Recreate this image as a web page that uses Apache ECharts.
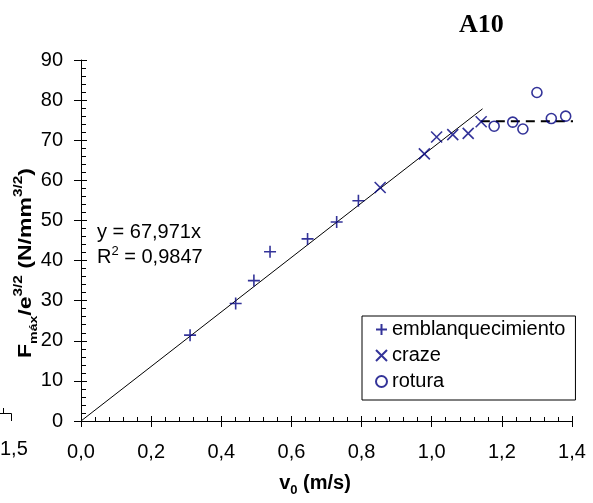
<!DOCTYPE html>
<html><head><meta charset="utf-8">
<script src="https://cdn.jsdelivr.net/npm/echarts@6/dist/echarts.min.js"></script>
<style>html,body{margin:0;padding:0;background:#fff}#c{width:593px;height:503px}</style>
</head><body><div id="c"></div>
<script>
// ---- data ----
const seriesNames = ['emblanquecimiento', 'craze', 'rotura'];
const emblV = [0.311, 0.441, 0.493, 0.539, 0.646, 0.729, 0.791];
const emblF = [21.4, 29.3, 35.0, 42.2, 45.4, 49.6, 54.9];
const crazeV = [0.853, 0.979, 1.014, 1.060, 1.104, 1.141];
const crazeF = [58.2, 66.6, 70.8, 71.4, 71.7, 74.6];
const roturaV = [1.178, 1.231, 1.260, 1.300, 1.341, 1.382];
const roturaF = [73.5, 74.5, 72.8, 81.9, 75.4, 76.0];
const trendSlope = 67.971;
const trendV = [0, 1.145];
const plateauV = [1.14, 1.425];
const plateauF = 74.7;
const xMin = 0, xMax = 1.4, xStep = 0.2;
const yMin = 0, yMax = 90, yStep = 10;
const eqText = ['y = 67,971x', '0,9847'];

const pair = (xs, ys) => xs.map((x, i) => [x, ys[i]]);
const navy = '#000080';
const FONT = 'Liberation Sans, Arial, sans-serif';
const fmt = v => v.toFixed(1).replace('.', ',');

const chart = echarts.init(document.getElementById('c'), null, {renderer: 'canvas'});
const grid = {left: 81, right: 21, top: 60, bottom: 82, containLabel: false};

const baseX = {
  type: 'value', min: xMin, max: xMax, interval: xStep, splitLine: {show: false}
};
const baseY = {
  type: 'value', min: yMin, max: yMax, interval: yStep, splitLine: {show: false}
};

const option = {
  animation: false,
  backgroundColor: '#fff',
  grid,
  xAxis: [
    Object.assign({}, baseX, {
      axisLine: {show: true, onZero: false, lineStyle: {color: '#000', width: 1}},
      axisTick: {show: true, inside: true, length: 5, lineStyle: {color: '#000'}},
      minorTick: {show: true, splitNumber: 5, length: 4, lineStyle: {color: '#000'}},
      axisLabel: {show: true, margin: 21, color: '#000', fontFamily: FONT, fontSize: 20, formatter: fmt}
    }),
    Object.assign({}, baseX, {
      position: 'bottom',
      axisLine: {show: false},
      axisTick: {show: true, inside: false, length: 6, lineStyle: {color: '#000'}},
      axisLabel: {show: false}
    })
  ],
  yAxis: [
    Object.assign({}, baseY, {
      axisLine: {show: true, onZero: false, lineStyle: {color: '#000', width: 1}},
      axisTick: {show: true, inside: true, length: 6, lineStyle: {color: '#000'}},
      minorTick: {show: true, splitNumber: 5, length: 5, lineStyle: {color: '#000'}},
      axisLabel: {show: true, margin: 18, color: '#000', fontFamily: FONT, fontSize: 20}
    }),
    Object.assign({}, baseY, {
      position: 'left',
      axisLine: {show: false},
      axisTick: {show: true, inside: false, length: 7, lineStyle: {color: '#000'}},
      axisLabel: {show: false}
    })
  ],
  legend: {
    data: seriesNames,
    orient: 'vertical',
    left: 362, top: 316,
    width: 219,
    padding: [3, 10, 8, 13],
    itemGap: 5,
    itemWidth: 11, itemHeight: 11,
    backgroundColor: '#fff',
    borderColor: '#000', borderWidth: 1, borderRadius: 0,
    textStyle: {color: '#000', fontFamily: FONT, fontSize: 20, lineHeight: 21},
    selectedMode: false
  },
  series: [
    {
      name: 'trend', type: 'line', xAxisIndex: 0, yAxisIndex: 0,
      data: trendV.map(v => [v, trendSlope * v]),
      symbol: 'none', lineStyle: {color: '#000', width: 1}, silent: true, z: 1
    },
    {
      name: 'plateau', type: 'line', xAxisIndex: 0, yAxisIndex: 0, clip: false,
      data: plateauV.map(v => [v, plateauF]),
      symbol: 'none', lineStyle: {color: '#000', width: 2, type: [9, 6]}, silent: true, z: 1
    },
    {
      name: seriesNames[0], type: 'scatter', data: pair(emblV, emblF),
      symbol: 'path://M0,6L12,6M6,0L6,12', symbolSize: 12,
      itemStyle: {color: 'transparent', borderColor: navy, borderWidth: 1.6}, z: 3
    },
    {
      name: seriesNames[1], type: 'scatter', data: pair(crazeV, crazeF),
      symbol: 'path://M0,0L12,12M12,0L0,12', symbolSize: 11,
      itemStyle: {color: 'transparent', borderColor: navy, borderWidth: 1.6}, z: 3
    },
    {
      name: seriesNames[2], type: 'scatter', data: pair(roturaV, roturaF),
      symbol: 'circle', symbolSize: 10,
      itemStyle: {color: 'transparent', borderColor: navy, borderWidth: 1.6}, z: 3
    }
  ],
  graphic: [
    {type: 'text', left: 459, top: 12,
      style: {text: 'A10', font: 'bold 26px "Liberation Serif", "Times New Roman", serif', fill: '#000'}},
    {type: 'text', x: 97, y: 232,
      style: {text: eqText[0], font: '20px ' + FONT, fill: '#000', textVerticalAlign: 'middle'}},
    {type: 'text', x: 97, y: 256,
      style: {
        text: '{n|R}{s|2}{n| = ' + eqText[1] + '}',
        textVerticalAlign: 'middle',
        rich: {
          n: {fontFamily: FONT, fontSize: 20, fill: '#000', lineHeight: 22, verticalAlign: 'bottom'},
          s: {fontFamily: FONT, fontSize: 13, fill: '#000', lineHeight: 22, verticalAlign: 'top'}
        }
      }},
    {type: 'text', x: 315, y: 485,
      style: {
        text: '{b|v}{sub|0}{b| (m/s)}',
        textAlign: 'center', textVerticalAlign: 'middle',
        rich: {
          b: {fontFamily: FONT, fontWeight: 'bold', fontSize: 20, fill: '#000', lineHeight: 24, verticalAlign: 'top'},
          sub: {fontFamily: FONT, fontWeight: 'bold', fontSize: 13, fill: '#000', lineHeight: 24, verticalAlign: 'bottom'}
        }
      }},
    {type: 'text', x: 26, y: 263, rotation: Math.PI / 2, scaleX: 1.28,
      style: {
        text: '{b|F}{sub|máx}{b|/e}{sup|3/2}{b| (N/mm}{sup|3/2}{b|)}',
        textAlign: 'center', textVerticalAlign: 'middle',
        rich: {
          b: {fontFamily: FONT, fontWeight: 'bold', fontSize: 18, fill: '#000', lineHeight: 26, verticalAlign: 'middle'},
          sub: {fontFamily: FONT, fontWeight: 'bold', fontSize: 11, fill: '#000', lineHeight: 24, verticalAlign: 'bottom'},
          sup: {fontFamily: FONT, fontWeight: 'bold', fontSize: 12, fill: '#000', lineHeight: 26, verticalAlign: 'top'}
        }
      }},
    {type: 'text', x: 0, y: 449,
      style: {text: '1,5', font: '20px ' + FONT, fill: '#000', textVerticalAlign: 'middle'}},
    {type: 'polyline', shape: {points: [[0, 413.5], [11.5, 413.5], [11.5, 421]]},
      style: {stroke: '#000', lineWidth: 1, fill: null}},
    {type: 'line', shape: {x1: 3.5, y1: 408, x2: 3.5, y2: 413.5},
      style: {stroke: '#000', lineWidth: 1}}
  ]
};
chart.setOption(option);
</script>
</body></html>
